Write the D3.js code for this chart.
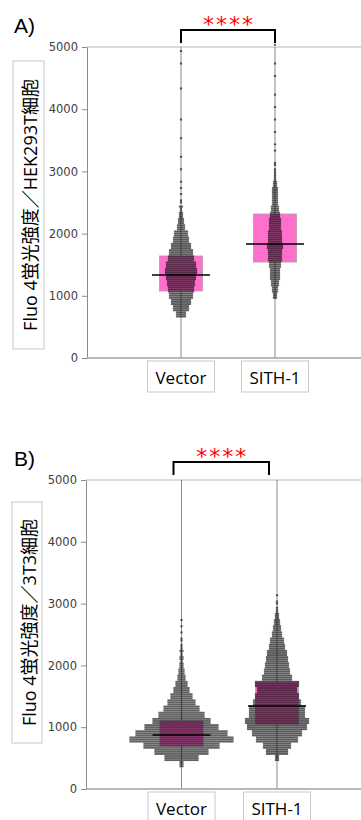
<!DOCTYPE html>
<html>
<head>
<meta charset="utf-8">
<script src="https://cdn.jsdelivr.net/npm/d3@7"></script>
<style>
  body { margin: 0; background: #fff; }
  svg { display: block; }
</style>
</head>
<body>
<svg id="chart" width="361" height="820"></svg>
<script>
// categories and ticks
const categories = ["Vector", "SITH-1"]
const yTicks = [0, 1000, 2000, 3000, 4000, 5000]
const binSize = 100

// cell counts per 100-unit bin (index * 100 = Fluo 4 value)
const hekVector = [0,0,0,0,0,0,0,15,24,30,36,39,42,45,48,45,39,36,30,24,21,12,9,6,4,2,1,1,1,0,1,0,1,0,0,1,0,0,1,0,0,0,0,1,0,0,0,1,0,1,0]
const hekSith   = [0,0,0,0,0,0,0,0,0,0,6,9,12,15,15,18,21,21,24,21,21,18,18,15,12,9,9,9,6,3,3,2,0,1,1,0,1,0,1,0,1,0,1,0,0,1,0,1,0,0,1]
const t3Vector  = [0,0,0,0,6,51,81,114,156,138,111,87,69,54,42,33,24,18,12,9,6,5,4,3,2,1,1,1,0,0,0,0,0,0,0,0,0,0,0,0,0,0,0,0,0,0,0,0,0,0,0]
const t3Sith    = [0,0,0,0,0,6,33,42,63,75,90,96,84,84,72,66,60,66,45,39,36,33,30,24,21,15,12,9,6,3,2,1,0,0,0,0,0,0,0,0,0,0,0,0,0,0,0,0,0,0,0]

// box (lower, upper) and median per category
const hekLower  = [1077, 1543]
const hekUpper  = [1640, 2315]
const hekMedian = [1334, 1833]
const t3Lower   = [696, 1052]
const t3Upper   = [1100, 1731]
const t3Median  = [874, 1343]

const svg = d3.select("#chart")

function drawPanel(opt) {
    const g = svg.append("g")

    const y = d3.scaleLinear().domain([0, 5000]).range([opt.bottom, opt.top])
    const x = d3.scalePoint().domain(categories).range(opt.xRange).padding(1)
    const spread = d3.scaleLinear().domain([0, 1]).range([0, 2])

    // panel letter
    g.append("text")
        .attr("x", 14).attr("y", opt.letterY)
        .style("font-family", "Liberation Sans, Arial, sans-serif")
        .style("font-size", "21px")
        .text(opt.letter)

    // top frame line
    g.append("line")
        .attr("x1", opt.xRange[0]).attr("x2", 361)
        .attr("y1", y(5000)).attr("y2", y(5000))
        .attr("stroke", "#b8b8b8").attr("stroke-width", 1)

    // category vertical lines
    g.selectAll(".vline").data(categories).join("line")
        .attr("x1", d => x(d)).attr("x2", d => x(d))
        .attr("y1", y(5000)).attr("y2", y(0))
        .attr("stroke", "#8a8a8a").attr("stroke-width", 1)

    // boxes
    g.selectAll(".box").data(categories).join("rect")
        .attr("x", d => x(d) - 21.5)
        .attr("width", 43)
        .attr("y", (d, i) => y(opt.upper[i]))
        .attr("height", (d, i) => y(opt.lower[i]) - y(opt.upper[i]))
        .attr("fill", "#ff70cc")
        .attr("stroke", "#b898aa").attr("stroke-width", 0.8)

    // dots
    const pts = []
    opt.series.forEach((counts, k) => {
        counts.forEach((c, i) => {
            for (let r = 0; r < 3; r++) {
                const n = Math.floor((c + r) / 3)
                const v = i * binSize + (r - 1) * binSize / 3
                for (let j = 0; j < n; j++) {
                    pts.push({ cat: categories[k], v: v, off: j - (n - 1) / 2 })
                }
            }
        })
    })
    g.append("g").selectAll("rect").data(pts).join("rect")
        .attr("x", d => x(d.cat) + spread(d.off) - 1.1)
        .attr("y", d => y(d.v) - 1)
        .attr("width", 2.2)
        .attr("height", 1.9)
        .attr("fill", "#000")
        .attr("fill-opacity", 0.62)

    // medians
    g.selectAll(".med").data(categories).join("line")
        .attr("x1", d => x(d) - 29).attr("x2", d => x(d) + 29)
        .attr("y1", (d, i) => y(opt.median[i])).attr("y2", (d, i) => y(opt.median[i]))
        .attr("stroke", "#000").attr("stroke-width", 1.6)

    // y axis
    const ax = g.append("g")
        .attr("transform", "translate(" + opt.xRange[0] + ",0)")
        .call(d3.axisLeft(y).tickValues(yTicks).tickFormat(d3.format("d"))
            .tickSize(5).tickSizeOuter(0).tickPadding(4))
    ax.select(".domain").attr("stroke", "#8a8a8a")
    ax.selectAll(".tick line").attr("stroke", "#8a8a8a")
    ax.selectAll("text")
        .style("font-family", "DejaVu Sans, sans-serif")
        .style("font-size", "11.5px")
        .attr("fill", "#404040")

    // x axis base line
    g.append("line")
        .attr("x1", opt.xRange[0]).attr("x2", 361)
        .attr("y1", y(0)).attr("y2", y(0))
        .attr("stroke", "#a0a0a0").attr("stroke-width", 1.5)

    // category label boxes
    const lab = g.selectAll(".cat").data(categories).join("g")
        .attr("transform", d => "translate(" + x(d) + "," + opt.labelTop + ")")
    lab.append("rect")
        .attr("x", -33.5).attr("y", 0)
        .attr("width", 67).attr("height", 31)
        .attr("fill", "#fff").attr("stroke", "#c8c8c8")
    lab.append("text")
        .attr("x", 0).attr("y", 23)
        .attr("text-anchor", "middle")
        .style("font-family", "Open Sans, sans-serif")
        .style("font-size", "17px")
        .text(d => d)

    // y label box
    g.append("rect")
        .attr("x", opt.yBox[0]).attr("y", opt.yBox[1])
        .attr("width", opt.yBox[2]).attr("height", opt.yBox[3])
        .attr("fill", "#fff").attr("stroke", "#c8c8c8")
    g.append("text")
        .attr("transform", "translate(" + (opt.yBox[0] + 24) + "," + (opt.yBox[1] + opt.yBox[3] / 2) + ") rotate(-90)")
        .attr("text-anchor", "middle")
        .style("font-family", "Open Sans, Noto Sans CJK JP, sans-serif")
        .style("font-size", "18px")
        .text(opt.yLabel)

    // significance bracket
    const bx1 = x(categories[0]) + opt.bracketShift
    const bx2 = x(categories[1]) + opt.bracketShift
    g.append("path")
        .attr("d", d3.line()([[bx1, opt.bracketY + 13], [bx1, opt.bracketY], [bx2, opt.bracketY], [bx2, opt.bracketY + 13]]))
        .attr("fill", "none").attr("stroke", "#000").attr("stroke-width", 2)
    g.append("text")
        .attr("x", (bx1 + bx2) / 2 + 1).attr("y", opt.bracketY + 2)
        .attr("text-anchor", "middle")
        .attr("fill", "#ff0000")
        .style("font-family", "DejaVu Sans, sans-serif")
        .style("font-size", "22px")
        .style("letter-spacing", "2px")
        .text("****")
}

drawPanel({
    letter: "A)", letterY: 33,
    top: 47, bottom: 358, xRange: [87, 369],
    series: [hekVector, hekSith],
    lower: hekLower, upper: hekUpper, median: hekMedian,
    labelTop: 361,
    yBox: [13, 61, 31, 288],
    yLabel: "Fluo 4蛍光強度／HEK293T細胞",
    bracketY: 30, bracketShift: 0
})

drawPanel({
    letter: "B)", letterY: 466,
    top: 480, bottom: 789, xRange: [86, 372.5],
    series: [t3Vector, t3Sith],
    lower: t3Lower, upper: t3Upper, median: t3Median,
    labelTop: 792,
    yBox: [12, 502, 30, 241],
    yLabel: "Fluo 4蛍光強度／3T3細胞",
    bracketY: 462, bracketShift: -8
})
</script>
</body>
</html>
